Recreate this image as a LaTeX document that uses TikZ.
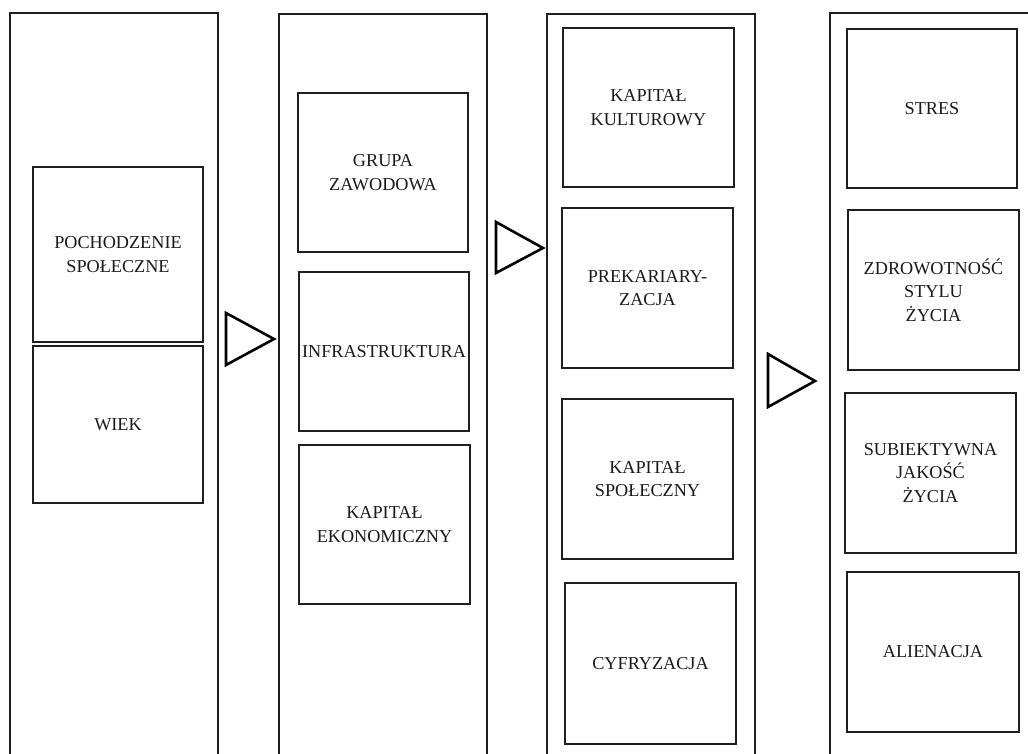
\documentclass[tikz,border=0pt]{standalone}
\usepackage{fontspec}
\setmainfont{Liberation Serif}
\begin{document}
\begin{tikzpicture}[x=1pt,y=-1pt,
  colframe/.style={draw=black!88, line width=2.4pt, rectangle, inner sep=0pt},
  box/.style={draw=black!88, line width=2.4pt, rectangle, inner sep=0pt, align=center,
    font=\fontsize{18.2}{23.5}\selectfont, text=black!90},
  tri/.style={draw=black, line width=2.6pt, line join=miter}]
\useasboundingbox (0,0) rectangle (1028,754);
\clip (0,0) rectangle (1028,754);
% columns (run off the bottom edge)
\node[colframe, minimum width=208pt, minimum height=787pt] (c1) at (114,406.5) {};
\node[colframe, minimum width=208pt, minimum height=786pt] (c2) at (383,407) {};
\node[colframe, minimum width=208pt, minimum height=786pt] (c3) at (651,407) {};
\node[colframe, minimum width=220pt, minimum height=787pt] (c4) at (940,406.5) {};
% column 1
\node[box, minimum width=170pt, minimum height=175pt] (poch) at (118,254.5) {POCHODZENIE\\SPOŁECZNE};
\node[box, minimum width=170pt, minimum height=157pt] (wiek) at (118,424.5) {WIEK};
% column 2
\node[box, minimum width=170pt, minimum height=159pt] (grupa) at (383,172.5) {GRUPA\\ZAWODOWA};
\node[box, minimum width=170pt, minimum height=159pt] (infra) at (384,351.5) {INFRASTRUKTURA};
\node[box, minimum width=171pt, minimum height=159pt] (ekon) at (384.5,524.5) {KAPITAŁ\\EKONOMICZNY};
% column 3
\node[box, minimum width=171pt, minimum height=159pt] (kult) at (648.5,107.5) {KAPITAŁ\\KULTUROWY};
\node[box, minimum width=171pt, minimum height=160pt] (prek) at (647.5,288) {PREKARIARY-\\ZACJA};
\node[box, minimum width=171pt, minimum height=160pt] (spol) at (647.5,479) {KAPITAŁ\\SPOŁECZNY};
\node[box, minimum width=171pt, minimum height=161pt] (cyfr) at (650.5,663.5) {CYFRYZACJA};
% column 4
\node[box, minimum width=170pt, minimum height=159pt] (stres) at (932,108.5) {STRES};
\node[box, minimum width=171pt, minimum height=160pt] (zdrow) at (933.5,290) {ZDROWOTNOŚĆ\\STYLU\\ŻYCIA};
\node[box, minimum width=171pt, minimum height=160pt] (subj) at (930.5,473) {SUBIEKTYWNA\\JAKOŚĆ\\ŻYCIA};
\node[box, minimum width=172pt, minimum height=160pt] (alien) at (933,652) {ALIENACJA};
% triangles between columns
\draw[tri] (226,313) -- (274,339) -- (226,365) -- cycle;
\draw[tri] (496,222) -- (543,248) -- (496,273) -- cycle;
\draw[tri] (768,354) -- (815,381) -- (768,407) -- cycle;
\end{tikzpicture}
\end{document}
